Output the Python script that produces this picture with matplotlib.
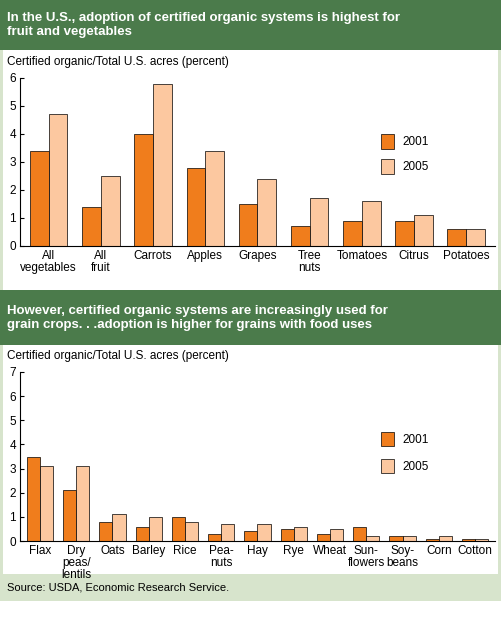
import matplotlib
matplotlib.use("Agg")
import matplotlib.pyplot as plt
import numpy as np
from matplotlib.patches import Rectangle

top_cats = ["All\nvegetables", "All\nfruit", "Carrots", "Apples", "Grapes", "Tree\nnuts",
            "Tomatoes", "Citrus", "Potatoes"]
top_2001 = [3.4, 1.4, 4.0, 2.8, 1.5, 0.7, 0.9, 0.9, 0.6]
top_2005 = [4.7, 2.5, 5.8, 3.4, 2.4, 1.7, 1.6, 1.1, 0.6]

bot_cats = ["Flax", "Dry\npeas/\nlentils", "Oats", "Barley", "Rice", "Pea-\nnuts", "Hay", "Rye",
            "Wheat", "Sun-\nflowers", "Soy-\nbeans", "Corn", "Cotton"]
bot_2001 = [3.5, 2.1, 0.8, 0.6, 1.0, 0.3, 0.4, 0.5, 0.3, 0.6, 0.2, 0.1, 0.1]
bot_2005 = [3.1, 3.1, 1.1, 1.0, 0.8, 0.7, 0.7, 0.6, 0.5, 0.2, 0.2, 0.2, 0.1]

C01, C05 = "#f07d1c", "#fcc8a0"
DARK, LIGHT = "#4b7b4b", "#d7e4cc"
plt.rcParams["font.family"] = ["Liberation Sans", "DejaVu Sans"]

W, H = 501, 629
fig = plt.figure(figsize=(W / 100, H / 100), dpi=100)
fig.patch.set_facecolor("white")


def box(x0, y0, x1, y1, color):
    # pixel coords, y from top
    fig.patches.append(Rectangle((x0 / W, 1 - y1 / H), (x1 - x0) / W, (y1 - y0) / H,
                                 transform=fig.transFigure, facecolor=color,
                                 edgecolor="none", zorder=-5))


box(0, 0, W, 601, LIGHT)
box(0, 0, W, 50, DARK)
box(3, 50, W - 3, 290, "white")
box(0, 290, W, 345, DARK)
box(3, 345, W - 3, 574, "white")

fig.text(7 / W, 1 - 25 / H, "In the U.S., adoption of certified organic systems is highest for\nfruit and vegetables",
         color="white", fontsize=9.5, fontweight="bold", va="center")
fig.text(7 / W, 1 - 318 / H, "However, certified organic systems are increasingly used for\ngrain crops. . .adoption is higher for grains with food uses",
         color="white", fontsize=9.5, fontweight="bold", va="center")
fig.text(7 / W, 1 - 62 / H, "Certified organic/Total U.S. acres (percent)", fontsize=8.5, va="center")
fig.text(7 / W, 1 - 356 / H, "Certified organic/Total U.S. acres (percent)", fontsize=8.5, va="center")
fig.text(7 / W, 1 - 587 / H, "Source: USDA, Economic Research Service.", fontsize=8, va="center")


def panel(rect, cats, v1, v2, ymax, leg_xy):
    ax = fig.add_axes(rect, zorder=5)
    ax.set_facecolor("none")
    x = np.arange(len(cats))
    w = 0.36
    ax.bar(x - w / 2, v1, w, color=C01, edgecolor="black", linewidth=0.5)
    ax.bar(x + w / 2, v2, w, color=C05, edgecolor="black", linewidth=0.5)
    ax.set_xlim(-0.55, len(cats) - 0.45)
    ax.set_ylim(0, ymax)
    ax.set_yticks(range(ymax + 1))
    ax.set_xticks(x)
    ax.set_xticklabels(cats, fontsize=8.5, va="top", linespacing=1.0)
    ax.tick_params(axis="x", length=0, pad=3)
    ax.tick_params(axis="y", labelsize=8.5, length=3, direction="in", pad=3)
    for s in ("top", "right"):
        ax.spines[s].set_visible(False)
    lx, ly = leg_xy
    for i, (c, lab) in enumerate([(C01, "2001"), (C05, "2005")]):
        ax.add_patch(Rectangle((lx, ly[i]), 0.028, 0.085, transform=ax.transAxes,
                               facecolor=c, edgecolor="black", linewidth=0.5))
        ax.text(lx + 0.045, ly[i] + 0.04, lab, transform=ax.transAxes, fontsize=8.5, va="center")
    return ax


panel([20 / W, 1 - 246 / H, 475 / W, 168 / H], top_cats, top_2001, top_2005, 6,
      (0.76, (0.58, 0.43)))
panel([20 / W, 1 - 541 / H, 475 / W, 169 / H], bot_cats, bot_2001, bot_2005, 7,
      (0.76, (0.56, 0.40)))

fig.savefig("out.png", dpi=100, facecolor=fig.get_facecolor())
